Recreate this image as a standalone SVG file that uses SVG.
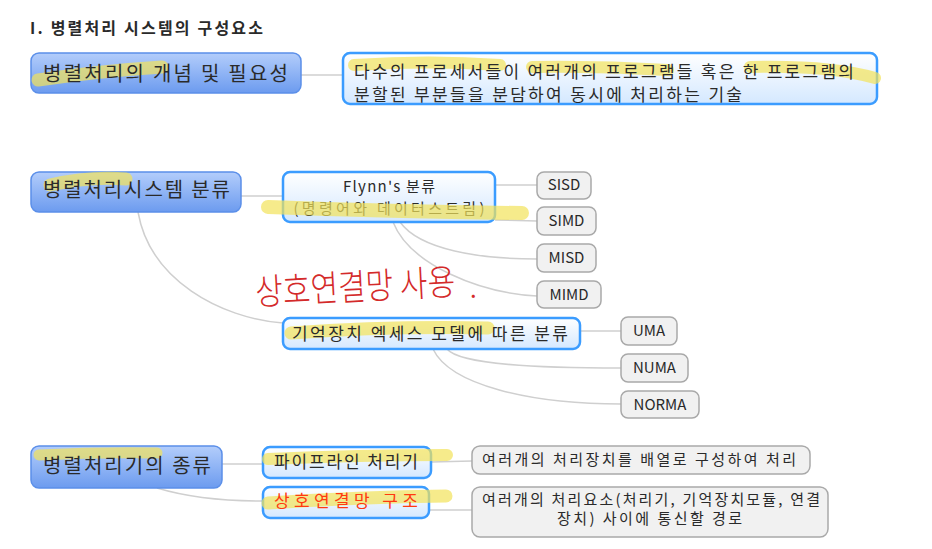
<svg xmlns="http://www.w3.org/2000/svg" width="932" height="549" viewBox="0 0 932 549">
<defs>
<linearGradient id="gMain" x1="0" y1="0" x2="0" y2="1"><stop offset="0" stop-color="#b3cdfb"/><stop offset="1" stop-color="#6c9bef"/></linearGradient>
<linearGradient id="gSub" x1="0" y1="0" x2="0" y2="1"><stop offset="0" stop-color="#ffffff"/><stop offset="1" stop-color="#d4e8ff"/></linearGradient>
<style>
.t{font-family:"Noto Sans CJK KR","Noto Sans",sans-serif;fill:#2a2a2a}
.main{fill:url(#gMain);stroke:#5b8fe9;stroke-width:1.5}
.sub{fill:url(#gSub);stroke:#3b9cff;stroke-width:2.5}
.leaf{fill:#f1f1f1;stroke:#a9a9a9;stroke-width:1.5}
.c{fill:none;stroke:#cfcfcf;stroke-width:1.5}
.hl{fill:none;stroke:#f2e35a;stroke-opacity:0.7;stroke-linecap:round}
.mt{font-size:20px}
.st{font-size:15px}
.lt{font-size:15px}
</style>
</defs>
<rect width="932" height="549" fill="#ffffff"/>
<text class="t" x="30" y="34" font-size="16" font-weight="bold" fill="#000" textLength="233" lengthAdjust="spacing">I. 병렬처리 시스템의 구성요소</text>

<g id="connectors">
<path class="c" d="M301,75 L343,75"/>
<path class="c" d="M241,196 L283,196"/>
<path class="c" d="M138,212 C150,280 220,318 283,323"/>
<path class="c" d="M495,185 L537,185"/>
<path class="c" d="M495,220 L537,221"/>
<path class="c" d="M400,222 C420,250 480,259 537,259"/>
<path class="c" d="M393,222 C410,265 480,293 537,296"/>
<path class="c" d="M580,331 L621,331"/>
<path class="c" d="M447,349 C460,365 540,368 621,368"/>
<path class="c" d="M433,349 C450,385 530,404 621,404"/>
<path class="c" d="M222,464 L262,464"/>
<path class="c" d="M157,488 C190,498 230,501 262,501"/>
<path class="c" d="M431,462 L472,461"/>
<path class="c" d="M429,510 L472,510"/>
</g>

<g id="n1">
<rect class="main" x="31" y="53" width="270" height="40" rx="8"/>
<path class="hl" stroke-width="13" d="M38,80 Q100,71 162,67"/>
<text class="t mt" x="43" y="81" textLength="245" lengthAdjust="spacing">병렬처리의 개념 및 필요성</text>
</g>

<g id="n1desc">
<rect class="sub" x="343" y="53" width="534" height="51" rx="7"/>
<path class="hl" stroke-width="12" d="M354,65 Q430,60 500,65"/>
<path class="hl" stroke-width="12" d="M532,67 Q600,66 668,70"/>
<path class="hl" stroke-width="12" d="M750,67 Q830,65 875,78"/>
<text class="t" font-size="17" x="354" y="78" textLength="500" lengthAdjust="spacing">다수의 프로세서들이 여러개의 프로그램들 혹은 한 프로그램의</text>
<text class="t" font-size="17" x="354" y="101" textLength="388" lengthAdjust="spacing">분할된 부분들을 분담하여 동시에 처리하는 기술</text>
</g>

<g id="n2">
<rect class="main" x="31" y="172" width="210" height="40" rx="8"/>
<path class="hl" stroke-width="13" d="M50,185 Q90,176 126,179"/>
<text class="t mt" x="43" y="197" textLength="187" lengthAdjust="spacing">병렬처리시스템 분류</text>
</g>

<g id="flynn">
<rect class="sub" x="283" y="172" width="212" height="50" rx="7"/>
<text class="t st" x="389" y="192" text-anchor="middle" textLength="92" lengthAdjust="spacing">Flynn's 분류</text>
<text class="t st" x="389" y="214" text-anchor="middle" textLength="191" lengthAdjust="spacing">(명령어와 데이터스트림)</text>
<path class="hl" stroke-width="14" d="M268,207 Q400,212 522,213"/>
</g>

<g id="sisd"><rect class="leaf" x="537" y="172" width="54" height="27" rx="7"/><text class="t lt" x="564" y="190" text-anchor="middle">SISD</text></g>
<g id="simd"><rect class="leaf" x="537" y="207" width="59" height="28" rx="7"/><text class="t lt" x="566.5" y="226" text-anchor="middle">SIMD</text></g>
<g id="misd"><rect class="leaf" x="537" y="244" width="59" height="28" rx="7"/><text class="t lt" x="566.5" y="263" text-anchor="middle">MISD</text></g>
<g id="mimd"><rect class="leaf" x="537" y="281" width="64" height="27" rx="7"/><text class="t lt" x="569" y="300" text-anchor="middle">MIMD</text></g>

<g id="memory">
<rect class="sub" x="283" y="318" width="297" height="31" rx="7"/>
<path class="hl" stroke-width="13" d="M291,333 Q390,326 488,328"/>
<text class="t" font-size="17" x="292" y="340" textLength="276" lengthAdjust="spacing">기억장치 엑세스 모델에 따른 분류</text>
</g>

<g id="uma"><rect class="leaf" x="621" y="317" width="56" height="28" rx="7"/><text class="t lt" x="649" y="336" text-anchor="middle">UMA</text></g>
<g id="numa"><rect class="leaf" x="621" y="354" width="67" height="28" rx="7"/><text class="t lt" x="654.5" y="373" text-anchor="middle">NUMA</text></g>
<g id="norma"><rect class="leaf" x="621" y="391" width="78" height="27" rx="7"/><text class="t lt" x="660" y="410" text-anchor="middle">NORMA</text></g>

<g id="annotation">
<text x="256" y="305" font-family="Noto Sans CJK KR,sans-serif" font-size="36" font-weight="300" fill="#d42a2a" transform="rotate(-3 256 305)" textLength="200" lengthAdjust="spacingAndGlyphs">상호연결망 사용</text>
<text x="470" y="298" font-family="Noto Sans CJK KR,sans-serif" font-size="24" fill="#d42a2a">.</text>
</g>

<g id="n3">
<rect class="main" x="31" y="446" width="191" height="42" rx="8"/>
<path class="hl" stroke-width="11" d="M39,455 Q100,452 157,453"/>
<text class="t mt" x="43" y="473" textLength="168" lengthAdjust="spacing">병렬처리기의 종류</text>
</g>

<g id="pipe">
<rect class="sub" x="263" y="447" width="168" height="31" rx="7"/>
<path class="hl" stroke-width="12" d="M268,459 Q360,455 447,455"/>
<text class="t" font-size="17" x="274" y="468" textLength="144" lengthAdjust="spacing">파이프라인 처리기</text>
</g>

<g id="inter">
<rect class="sub" x="263" y="487" width="166" height="31" rx="7"/>
<path class="hl" stroke-width="13" d="M268,503 Q360,497 446,496"/>
<text class="t" font-size="17" x="274" y="507" textLength="144" lengthAdjust="spacing" style="fill:#ff3a10">상호연결망 구조</text>
</g>

<g id="pipedesc">
<rect class="leaf" x="472" y="446" width="338" height="28" rx="8"/>
<text class="t lt" x="482" y="465" textLength="314" lengthAdjust="spacing">여러개의 처리장치를 배열로 구성하여 처리</text>
</g>

<g id="interdesc">
<rect class="leaf" x="472" y="487" width="356" height="50" rx="8"/>
<text class="t lt" x="482" y="505" textLength="338" lengthAdjust="spacing">여러개의 처리요소(처리기, 기억장치모듈, 연결</text>
<text class="t lt" x="557" y="524" textLength="185" lengthAdjust="spacing">장치) 사이에 통신할 경로</text>
</g>
</svg>
